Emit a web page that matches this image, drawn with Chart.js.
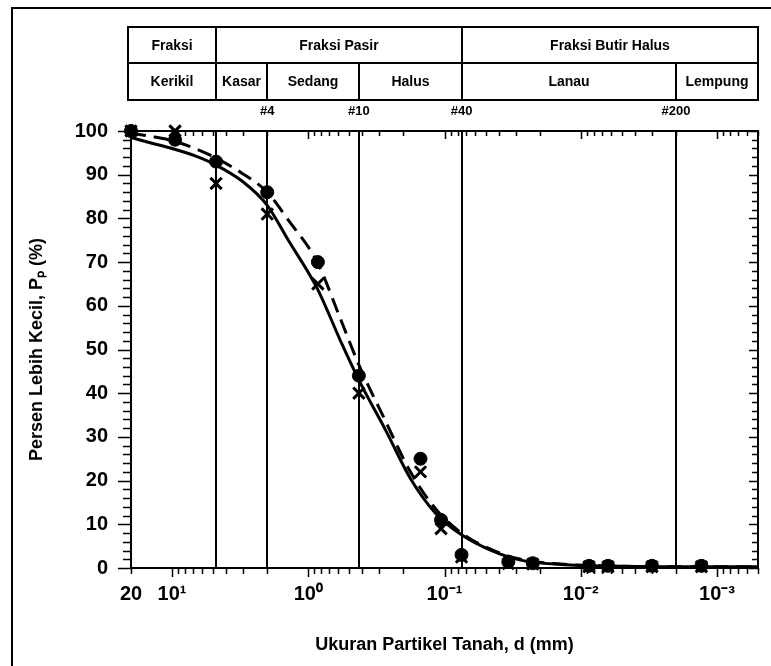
<!DOCTYPE html>
<html>
<head>
<meta charset="utf-8">
<script src="https://cdn.jsdelivr.net/npm/chart.js@4.4.1/dist/chart.umd.min.js"></script>
<style>
  html, body { margin: 0; padding: 0; background: #fff; }
</style>
</head>
<body>
<canvas id="myChart" width="771" height="666"></canvas>
<script>
// grain sizes (mm) of the tested points
const sizesA = [20, 9.5, 4.75, 2, 0.85, 0.425, 0.15, 0.106, 0.075, 0.034, 0.0225, 0.0087, 0.0063, 0.003, 0.0013];
const passingA = [100, 98, 93, 86, 70, 44, 25, 11, 3, 1.4, 1.1, 0.5, 0.5, 0.5, 0.5];
const sizesB = [20, 9.5, 4.75, 2, 0.85, 0.425, 0.15, 0.106, 0.075, 0.034, 0.0225, 0.0087, 0.0063, 0.003, 0.0013];
const passingB = [100, 100, 88, 81, 65, 40, 22, 9, 2.5, 1, 0.9, 0.3, 0.3, 0.3, 0.3];

// fitted curves
const curveSizes = [20, 14.5, 10, 6.76, 4.75, 3.05, 2, 1.4, 0.86, 0.58, 0.425, 0.27, 0.178, 0.116, 0.075, 0.046, 0.0276, 0.014, 0.0051, 0.0013, 0.0005];
const curveSolid = [98.5, 97.3, 96, 94.3, 92.2, 88.5, 83, 75, 64, 52, 43, 31.5, 20.5, 12.5, 7.6, 4.1, 1.8, 0.8, 0.4, 0.3, 0.3];
const curveDashed = [99.5, 98.8, 97.8, 96, 93.8, 90.3, 86, 79.6, 70, 57, 46.5, 33.5, 22, 13.5, 8, 4.3, 2, 0.9, 0.4, 0.3, 0.3];

// axis
const xTickValues = [20, 10, 1, 0.1, 0.01, 0.001];
const xTickLabels = ['20', '10\u00B9', '10\u2070', '10\u207B\u00B9', '10\u207B\u00B2', '10\u207B\u00B3'];
const xMin = 0.0005, xMax = 20;

// fraction table and sieve boundaries
const boundaryRow1 = [4.75, 0.075];
const boundaryRow2 = [4.75, 2, 0.425, 0.075, 0.002];
const tableRow1 = ['Fraksi', 'Fraksi Pasir', 'Fraksi Butir Halus'];
const tableRow2 = ['Kerikil', 'Kasar', 'Sedang', 'Halus', 'Lanau', 'Lempung'];
const sieveLabels = ['#4', '#10', '#40', '#200'];
const sieveLabelAt = [2, 0.425, 0.075, 0.002];

const FONT = "'Liberation Sans', Arial, sans-serif";

function toXY(xs, ys) {
  return xs.map((v, i) => ({ x: v, y: ys[i] }));
}

const gradationDecor = {
  id: 'gradationDecor',
  beforeDatasetsDraw(chart) {
    const { ctx, chartArea: a, scales: { x } } = chart;
    ctx.save();
    ctx.strokeStyle = '#000';
    ctx.lineWidth = 2;
    boundaryRow2.forEach(d => {
      const px = Math.round(x.getPixelForValue(d));
      ctx.beginPath();
      ctx.moveTo(px, a.top);
      ctx.lineTo(px, a.bottom);
      ctx.stroke();
    });
    ctx.restore();
  },
  afterDraw(chart) {
    const { ctx, chartArea: a, scales: { x, y } } = chart;
    ctx.save();
    ctx.strokeStyle = '#000';
    ctx.fillStyle = '#000';

    // outer figure border
    ctx.lineWidth = 2;
    ctx.beginPath();
    ctx.moveTo(12, 666);
    ctx.lineTo(12, 8);
    ctx.lineTo(771, 8);
    ctx.stroke();

    // plot frame
    ctx.strokeRect(a.left, a.top, a.right - a.left, a.bottom - a.top);

    // x ticks (log)
    ctx.lineWidth = 1.5;
    for (let k = -4; k <= 1; k++) {
      for (let m = 1; m <= 9; m++) {
        const v = m * Math.pow(10, k);
        if (v < xMin || v > xMax) continue;
        const px = Math.round(x.getPixelForValue(v)) + 0.5;
        const major = m === 1;
        ctx.beginPath();
        ctx.moveTo(px, a.bottom);
        ctx.lineTo(px, a.bottom + (major ? 9 : 6));
        ctx.moveTo(px, a.top);
        ctx.lineTo(px, a.top + (major ? 8 : 5));
        ctx.stroke();
      }
    }
    // y ticks
    for (let v = 0; v <= 100; v += 2) {
      const py = Math.round(y.getPixelForValue(v)) + 0.5;
      const major = v % 10 === 0;
      ctx.beginPath();
      ctx.moveTo(a.left - (major ? 13 : 8), py);
      ctx.lineTo(a.left, py);
      ctx.moveTo(a.right, py);
      ctx.lineTo(a.right - (major ? 9 : 6), py);
      ctx.stroke();
    }

    // fraction table
    const tL = 128, tR = a.right, tT = 27, tM = 63, tB = 100;
    ctx.lineWidth = 2;
    ctx.strokeRect(tL, tT, tR - tL, tB - tT);
    ctx.beginPath();
    ctx.moveTo(tL, tM);
    ctx.lineTo(tR, tM);
    ctx.stroke();
    const edges1 = [tL, ...boundaryRow1.map(d => Math.round(x.getPixelForValue(d))), tR];
    const edges2 = [tL, ...boundaryRow2.map(d => Math.round(x.getPixelForValue(d))), tR];
    boundaryRow1.forEach((d, i) => {
      ctx.beginPath();
      ctx.moveTo(edges1[i + 1], tT);
      ctx.lineTo(edges1[i + 1], tM);
      ctx.stroke();
    });
    boundaryRow2.forEach((d, i) => {
      ctx.beginPath();
      ctx.moveTo(edges2[i + 1], tM);
      ctx.lineTo(edges2[i + 1], tB);
      ctx.stroke();
    });
    ctx.font = 'bold 14px ' + FONT;
    ctx.textAlign = 'center';
    ctx.textBaseline = 'middle';
    tableRow1.forEach((t, i) => ctx.fillText(t, (edges1[i] + edges1[i + 1]) / 2, (tT + tM) / 2 + 1));
    tableRow2.forEach((t, i) => ctx.fillText(t, (edges2[i] + edges2[i + 1]) / 2, (tM + tB) / 2 + 1));

    // sieve numbers
    ctx.font = 'bold 13px ' + FONT;
    sieveLabels.forEach((t, i) => {
      ctx.fillText(t, x.getPixelForValue(sieveLabelAt[i]), 111);
    });
    ctx.restore();
  }
};

const ctx = document.getElementById('myChart').getContext('2d');

const myChart = new Chart(ctx, {
  type: 'scatter',
  data: {
    datasets: [
      {
        label: 'Sampel 1',
        data: toXY(sizesA, passingA),
        pointStyle: 'circle',
        pointRadius: 6.5,
        backgroundColor: '#000',
        borderColor: '#000',
        showLine: false,
        clip: false,
        order: 1
      },
      {
        label: 'Sampel 2',
        data: toXY(sizesB, passingB),
        pointStyle: 'crossRot',
        pointRadius: 8,
        borderWidth: 3,
        borderColor: '#000',
        showLine: false,
        clip: false,
        order: 0
      },
      {
        label: 'Kurva 2',
        data: toXY(curveSizes, curveSolid),
        showLine: true,
        pointRadius: 0,
        borderColor: '#000',
        borderWidth: 3,
        cubicInterpolationMode: 'monotone',
        order: 3
      },
      {
        label: 'Kurva 1',
        data: toXY(curveSizes, curveDashed),
        showLine: true,
        pointRadius: 0,
        borderColor: '#000',
        borderWidth: 3,
        borderDash: [15, 8],
        cubicInterpolationMode: 'monotone',
        order: 2
      }
    ]
  },
  options: {
    responsive: false,
    animation: false,
    layout: {
      padding: { top: 131, right: 13, left: 0, bottom: 0 }
    },
    plugins: {
      legend: { display: false },
      tooltip: { enabled: false }
    },
    scales: {
      x: {
        type: 'logarithmic',
        reverse: true,
        min: xMin,
        max: xMax,
        grid: { display: false, drawTicks: false },
        border: { display: false },
        afterBuildTicks: scale => {
          scale.ticks = xTickValues.map(v => ({ value: v }));
        },
        afterFit: scale => { scale.height = 98; },
        ticks: {
          autoSkip: false,
          maxRotation: 0,
          padding: 14,
          color: '#000',
          font: { size: 20, family: FONT, weight: 'bold' },
          callback: (value, index) => xTickLabels[index]
        },
        title: {
          display: true,
          text: 'Ukuran Partikel Tanah, d (mm)',
          color: '#000',
          padding: { top: 0, bottom: 10 },
          font: { size: 18, family: FONT, weight: 'bold' }
        }
      },
      y: {
        min: 0,
        max: 100,
        grid: { display: false, drawTicks: false },
        border: { display: false },
        afterFit: scale => { scale.width = 131; },
        ticks: {
          stepSize: 10,
          padding: 23,
          color: '#000',
          font: { size: 20, family: FONT, weight: 'bold' }
        },
        title: {
          display: true,
          text: 'Persen Lebih Kecil, P\u209A (%)',
          color: '#000',
          padding: { top: 26, bottom: 0 },
          font: { size: 18, family: FONT, weight: 'bold' }
        }
      }
    }
  },
  plugins: [gradationDecor]
});
</script>
</body>
</html>
